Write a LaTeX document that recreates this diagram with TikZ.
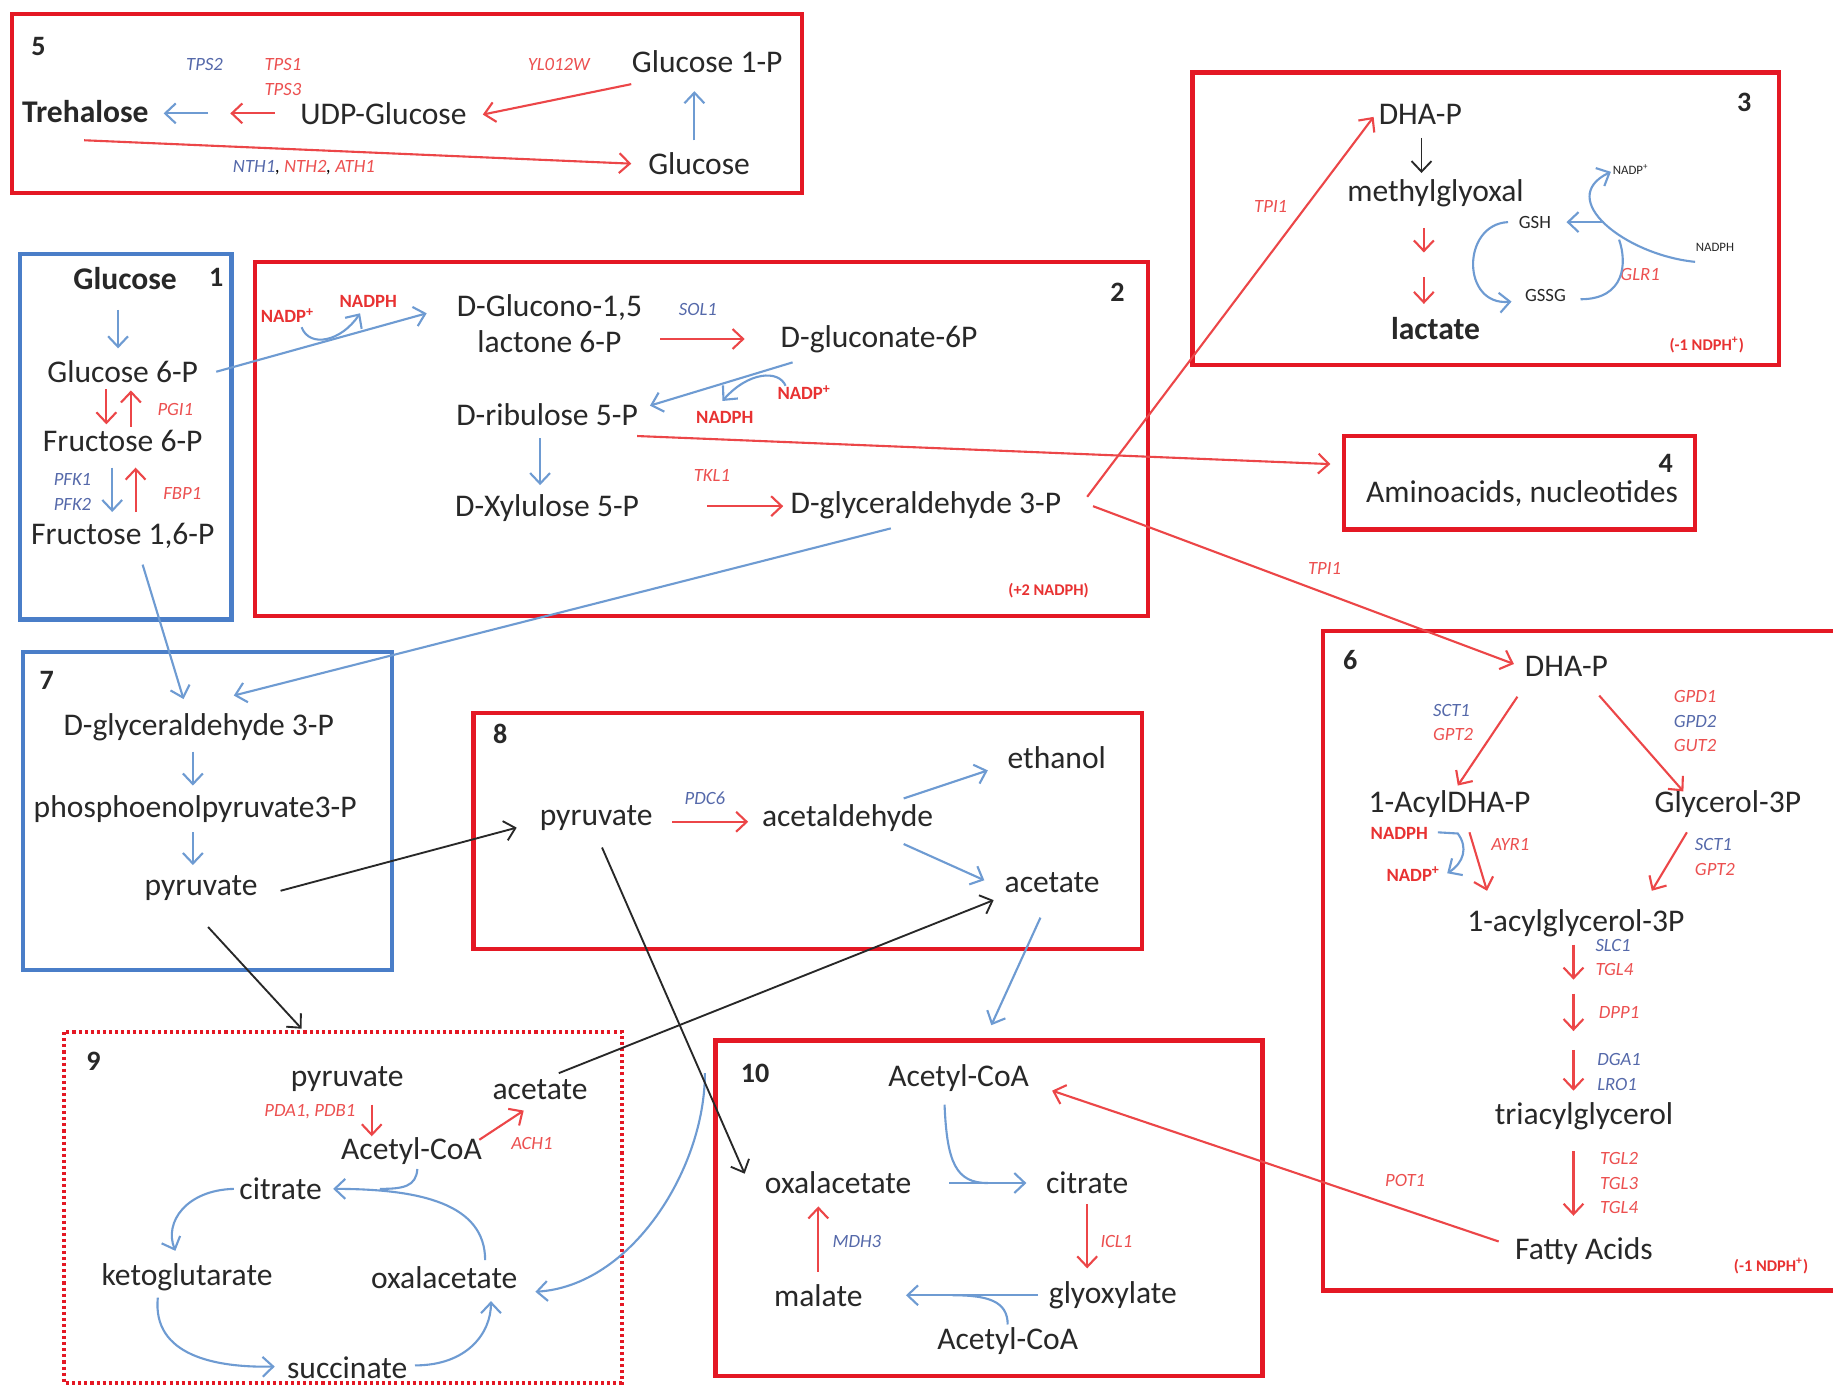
\documentclass[tikz,border=0pt]{standalone}
\usepackage{fontspec}
\setmainfont{Carlito}
\usetikzlibrary{arrows.meta}
\definecolor{boxred}{RGB}{228,24,36}
\definecolor{boxblue}{RGB}{74,126,200}
\definecolor{arred}{RGB}{236,70,72}
\definecolor{arblue}{RGB}{110,155,210}
\definecolor{arblack}{RGB}{40,40,40}
\definecolor{enzred}{RGB}{236,80,80}
\definecolor{enzblue}{RGB}{85,105,170}
\definecolor{txt}{RGB}{40,40,40}
\definecolor{cofred}{RGB}{232,50,50}
\begin{document}
\begin{tikzpicture}[x=0.5pt,y=-0.5pt,
  >={Straight Barb[length=4.5pt,width=8.5pt]},
  main/.style={font=\fontsize{13.5}{15.5}\selectfont, text=txt, inner sep=1pt, align=center},
  mainb/.style={font=\fontsize{13.5}{15.5}\selectfont\bfseries, text=txt, inner sep=1pt},
  enz/.style={font=\fontsize{8}{10.5}\selectfont\itshape, inner sep=0.5pt, align=left},
  er/.style={enz, text=enzred},
  eb/.style={enz, text=enzblue},
  cof/.style={font=\fontsize{8}{9}\selectfont\bfseries, text=cofred, inner sep=0.5pt},
  smalltxt/.style={font=\fontsize{8}{9}\selectfont, text=txt, inner sep=0.5pt},
  tinytxt/.style={font=\fontsize{5.5}{6}\selectfont, text=txt, inner sep=0.3pt},
  balance/.style={font=\fontsize{7}{8}\selectfont\bfseries, text=cofred, inner sep=0.5pt},
  numl/.style={font=\fontsize{12}{13}\selectfont\bfseries, text=txt, inner sep=0.5pt},
  rbox/.style={draw=boxred, line width=1.8pt},
  bbox/.style={draw=boxblue, line width=1.8pt},
  dbox/.style={draw=boxred, line width=1.8pt, dash pattern=on 1.3pt off 1.3pt},
  ra/.style={draw=arred, line width=0.9pt, ->},
  ba/.style={draw=arblue, line width=0.9pt, ->},
  ka/.style={draw=arblack, line width=0.8pt, ->},
  bl/.style={draw=arblue, line width=0.9pt}
]
\useasboundingbox[fill=white] (0,0) rectangle (1568,1186);

% ---------------- boxes
\draw[rbox] (10,12) rectangle (686,165);
\draw[rbox] (1020,62) rectangle (1522,312);
\draw[bbox] (17,217) rectangle (198,530);
\draw[rbox] (218,224) rectangle (982,527);
\draw[rbox] (1150,373) rectangle (1450,453);
\draw[rbox] (1132,540) rectangle (1590,1104);
\draw[bbox] (20,558) rectangle (335,830);
\draw[rbox] (405,610) rectangle (977,812);
\draw[dbox] (55,883) rectangle (532,1183);
\draw[rbox] (612,890) rectangle (1080,1177);

% ---------------- box 5
\node[numl] (n5) at (33,40) {5};
\node[eb] (tps2) at (175,55) {TPS2};
\node[er] (tps13) at (242,66) {TPS1\\TPS3};
\node[er] (ylw) at (478,55) {YL012W};
\node[main] (g1p) at (605,53) {Glucose 1-P};
\node[mainb] (treh) at (73,95) {Trehalose};
\node[main] (udpg) at (328,97) {UDP-Glucose};
\node[main] (glc5) at (598,140) {Glucose};
\node[enz] (nth) at (260,143) {\textcolor{enzblue}{NTH1}, \textcolor{enzred}{NTH2}, \textcolor{enzred}{ATH1}};
\coordinate (t1) at (197,97);
\coordinate (t2) at (178,97);
\draw[ra] ([shift={(-93,0)}]udpg.center) -- (t1);
\draw[ba] (t2) -- ([shift={(67,2)}]treh.center);
\draw[ra] ([shift={(-65,19)}]g1p.center) -- ([shift={(85,1)}]udpg.center);
\draw[ba] ([shift={(-4,-20)}]glc5.center) -- ([shift={(-11,25)}]g1p.center);
\draw[ra] ([shift={(-1,25)}]treh.center) -- ([shift={(-58,0)}]glc5.center);

% ---------------- box 3
\node[numl] (n3) at (1492,88) {3};
\node[main] (dhap3) at (1215,98) {DHA-P};
\node[main] (mgly) at (1228,165) {methylglyoxal};
\node[mainb] (lact) at (1228,281) {lactate};
\node[er] (tpi3) at (1087,177) {TPI1};
\node[smalltxt] (gsh) at (1313,190) {GSH};
\node[smalltxt] (gssg) at (1322,253) {GSSG};
\node[tinytxt] (nadp3) at (1395,145) {NADP\textsuperscript{+}};
\node[tinytxt] (nadph3) at (1467,212) {NADPH};
\node[er] (glr) at (1403,235) {GLR1};
\node[balance] (bal3) at (1460,295) {(-1 NDPH\textsuperscript{+})};
\coordinate (c3a) at (1218,216);
\coordinate (c3b) at (1218,237);
\coordinate (j3) at (1385,205);
\coordinate (j3b) at (1372,190);
\draw[ka] ([shift={(1,20)}]dhap3.center) -- ([shift={(-12,-17)}]mgly.center);
\draw[ra] ([shift={(-10,30)}]mgly.center) -- (c3a);
\draw[ra] (c3b) -- ([shift={(-10,-21)}]lact.center);
\draw[ba] ([shift={(-23,0)}]gsh.center) .. controls (1250,192) and (1250,262) .. ([shift={(-29,5)}]gssg.center);
\draw[bl] ([shift={(30,3)}]gssg.center) .. controls (1390,256) and (1392,225) .. (j3);
\draw[ba] ([shift={(-17,12)}]nadph3.center) .. controls (1390,218) and (1330,170) .. ([shift={(-17,2)}]nadp3.center);
\draw[ba] (j3b) -- ([shift={(27,0)}]gsh.center);

% ---------------- box 1
\node[numl] (n1) at (185,237) {1};
\node[mainb] (glc1) at (107,238) {Glucose};
\node[main] (g6p) at (105,318) {Glucose 6-P};
\node[main] (f6p) at (105,377) {Fructose 6-P};
\node[main] (f16p) at (105,458) {Fructose 1,6-P};
\node[er] (pgi) at (150,350) {PGI1};
\node[eb] (pfk) at (62,421) {PFK1\\PFK2};
\node[er] (fbp) at (156,422) {FBP1};
\draw[ba] ([shift={(-6,27)}]glc1.center) -- ([shift={(-4,-20)}]g6p.center);
\draw[ra] ([shift={(-14,15)}]g6p.center) -- ([shift={(-14,-14)}]f6p.center);
\draw[ra] ([shift={(7,-12)}]f6p.center) -- ([shift={(7,16)}]g6p.center);
\draw[ba] ([shift={(-9,23)}]f6p.center) -- ([shift={(-9,-20)}]f16p.center);
\draw[ra] ([shift={(11,-20)}]f16p.center) -- ([shift={(11,23)}]f6p.center);

% ---------------- box 2
\node[numl] (n2) at (956,250) {2};
\node[main] (glucono) at (470,277) {D-Glucono-1,5\\lactone 6-P};
\node[main] (gluconate) at (752,290) {D-gluconate-6P};
\node[main] (rib) at (468,355) {D-ribulose 5-P};
\node[main] (xyl) at (468,435) {D-Xylulose 5-P};
\node[main] (gap2) at (792,432) {D-glyceraldehyde 3-P};
\node[eb] (sol) at (597,265) {SOL1};
\node[er] (tkl) at (609,407) {TKL1};
\node[balance] (bal2) at (897,505) {(+2 NADPH)};
\node[cof] (nadp2a) at (246,270) {NADP\textsuperscript{+}};
\node[cof] (nadph2a) at (315,258) {NADPH};
\node[cof] (nadp2b) at (688,336) {NADP\textsuperscript{+}};
\node[cof] (nadph2b) at (620,357) {NADPH};
\draw[ba] ([shift={(80,0)}]g6p.center) -- ([shift={(-105,-9)}]glucono.center);
\draw[ba] ([shift={(12,10)}]nadp2a.center) .. controls (265,298) and (292,292) .. ([shift={(-7,10)}]nadph2a.center);
\draw[ra] ([shift={(95,13)}]glucono.center) -- ([shift={(-115,0)}]gluconate.center);
\draw[ba] ([shift={(-74,20)}]gluconate.center) -- ([shift={(88,-8)}]rib.center);
\draw[ba] ([shift={(-16,-6)}]nadp2b.center) .. controls (666,316) and (640,318) .. ([shift={(-2,-14)}]nadph2b.center);
\draw[ba] ([shift={(-6,20)}]rib.center) -- ([shift={(-6,-20)}]xyl.center);
\draw[ra] ([shift={(137,-2)}]xyl.center) -- ([shift={(-122,1)}]gap2.center);

% ---------------- box 4
\node[numl] (n4) at (1425,396) {4};
\node[main] (amino) at (1302,422) {Aminoacids, nucleotides};
\draw[ra] ([shift={(77,18)}]rib.center) -- ([shift={(-164,-25)}]amino.center);

% ---------------- box 6
\node[numl] (n6) at (1155,565) {6};
\node[main] (dhap6) at (1340,570) {DHA-P};
\node[main] (acyl) at (1240,688) {1-AcylDHA-P};
\node[main] (g3p) at (1478,688) {Glycerol-3P};
\node[main] (lpa) at (1348,790) {1-acylglycerol-3P};
\node[main] (tag) at (1355,955) {triacylglycerol};
\node[main] (fa) at (1355,1070) {Fatty Acids};
\node[enz] (sct6a) at (1243,618) {\textcolor{enzblue}{SCT1}\\\textcolor{enzred}{GPT2}};
\node[enz] (gpd) at (1450,617) {\textcolor{enzred}{GPD1}\\\textcolor{enzblue}{GPD2}\\\textcolor{enzred}{GUT2}};
\node[cof] (nadph6) at (1197,713) {NADPH};
\node[cof] (nadp6) at (1209,748) {NADP\textsuperscript{+}};
\node[er] (ayr) at (1292,722) {AYR1};
\node[enz] (sct6b) at (1467,733) {\textcolor{enzblue}{SCT1}\\\textcolor{enzred}{GPT2}};
\node[enz] (slc) at (1381,819) {\textcolor{enzblue}{SLC1}\\\textcolor{enzred}{TGL4}};
\node[er] (dpp) at (1385,866) {DPP1};
\node[eb] (dga) at (1385,917) {DGA1\\LRO1};
\node[er] (tgl) at (1385,1012) {TGL2\\TGL3\\TGL4};
\node[er] (pot) at (1202,1010) {POT1};
\node[er] (tpi6) at (1133,486) {TPI1};
\node[balance] (bal6) at (1515,1083) {(-1 NDPH\textsuperscript{+})};
\coordinate (c6a) at (1346,838);
\coordinate (c6b) at (1346,850);
\coordinate (c6c) at (1346,882);
\coordinate (c6d) at (1346,898);
\coordinate (j6) at (1247,713);
\draw[ra] ([shift={(-42,26)}]dhap6.center) -- ([shift={(7,-16)}]acyl.center);
\draw[ra] ([shift={(28,25)}]dhap6.center) -- ([shift={(-38,-11)}]g3p.center);
\draw[ra] ([shift={(17,24)}]acyl.center) -- ([shift={(-76,-28)}]lpa.center);
\draw[ra] ([shift={(-35,24)}]g3p.center) -- ([shift={(65,-28)}]lpa.center);
\draw[ba] ([shift={(33,-1)}]nadph6.center) -- (j6) .. controls (1256,725) and (1252,738) .. ([shift={(29,-1)}]nadp6.center);
\draw[ra] ([shift={(-2,18)}]lpa.center) -- (c6a);
\draw[ra] (c6b) -- (c6c);
\draw[ra] (c6d) -- ([shift={(-9,-22)}]tag.center);
\draw[ra] ([shift={(-9,30)}]tag.center) -- ([shift={(-9,-30)}]fa.center);

% ---------------- box 7
\node[numl] (n7) at (40,582) {7};
\node[main] (gap7) at (170,622) {D-glyceraldehyde 3-P};
\node[main] (pep) at (167,692) {phosphoenolpyruvate3-P};
\node[main] (pyr7) at (172,760) {pyruvate};
\draw[ba] ([shift={(-5,21)}]gap7.center) -- ([shift={(-2,-20)}]pep.center);
\draw[ba] ([shift={(-2,20)}]pep.center) -- ([shift={(-7,-20)}]pyr7.center);
\draw[ba] ([shift={(17,25)}]f16p.center) -- ([shift={(-13,-24)}]gap7.center);
\draw[ba] ([shift={(-30,20)}]gap2.center) -- ([shift={(30,-27)}]gap7.center);
\draw[ra] ([shift={(138,-7)}]gap2.center) -- ([shift={(-40,2)}]dhap3.center);
\draw[ra] ([shift={(143,1)}]gap2.center) -- ([shift={(-45,-2)}]dhap6.center);

% ---------------- box 8
\node[numl] (n8) at (428,628) {8};
\node[main] (pyr8) at (510,700) {pyruvate};
\node[main] (acald) at (725,700) {acetaldehyde};
\node[main] (etoh) at (904,648) {ethanol};
\node[main] (acet8) at (900,755) {acetate};
\node[eb] (pdc) at (603,683) {PDC6};
\coordinate (c8) at (848,877);
\draw[ra] ([shift={(65,3)}]pyr8.center) -- ([shift={(-85,3)}]acald.center);
\draw[ba] ([shift={(48,-17)}]acald.center) -- ([shift={(-59,11)}]etoh.center);
\draw[ba] ([shift={(48,22)}]acald.center) -- ([shift={(-58,-2)}]acet8.center);
\draw[ka] ([shift={(68,2)}]pyr7.center) -- ([shift={(-68,8)}]pyr8.center);
\draw[ba] ([shift={(-10,30)}]acet8.center) -- (c8);

% ---------------- box 9
\node[numl] (n9) at (80,908) {9};
\node[main] (pyr9) at (297,923) {pyruvate};
\node[main] (accoa9) at (352,985) {Acetyl-CoA};
\node[main] (acet9) at (462,932) {acetate};
\node[main] (cit9) at (240,1017) {citrate};
\node[main] (akg) at (160,1093) {ketoglutarate};
\node[main] (oaa9) at (380,1093) {oxalacetate};
\node[main] (succ) at (297,1170) {succinate};
\node[er] (pda) at (265,951) {PDA1, PDB1};
\node[er] (ach) at (455,978) {ACH1};
\coordinate (j9) at (325,1017);
\coordinate (c9) at (603,918);
\draw[ka] ([shift={(6,33)}]pyr7.center) -- ([shift={(-39,-43)}]pyr9.center);
\draw[ra] ([shift={(21,22)}]pyr9.center) -- ([shift={(-34,-13)}]accoa9.center);
\draw[ra] ([shift={(58,-10)}]accoa9.center) -- ([shift={(-14,18)}]acet9.center);
\draw[ba] ([shift={(35,-15)}]oaa9.center) .. controls (415,1030) and (360,1017) .. ([shift={(45,0)}]cit9.center);
\draw[bl] ([shift={(5,15)}]accoa9.center) .. controls (356,1015) and (345,1017) .. (j9);
\draw[ba] ([shift={(-40,0)}]cit9.center) .. controls (160,1018) and (140,1045) .. ([shift={(-10,-23)}]akg.center);
\draw[ba] ([shift={(-25,17)}]akg.center) .. controls (130,1160) and (185,1170) .. ([shift={(-62,-1)}]succ.center);
\draw[ba] ([shift={(58,-2)}]succ.center) .. controls (400,1168) and (420,1140) .. ([shift={(40,20)}]oaa9.center);
\draw[ba] (c9) .. controls (603,1000) and (540,1100) .. ([shift={(78,12)}]oaa9.center);
\draw[ka] ([shift={(16,-14)}]acet9.center) -- ([shift={(-50,15)}]acet8.center);

% ---------------- box 10
\node[numl] (n10) at (646,918) {10};
\node[main] (accoa10) at (820,922) {Acetyl-CoA};
\node[main] (oaa10) at (717,1012) {oxalacetate};
\node[main] (cit10) at (930,1012) {citrate};
\node[main] (glyox) at (952,1108) {glyoxylate};
\node[main] (mal) at (700,1108) {malate};
\node[main] (accoa10b) at (862,1147) {Acetyl-CoA};
\node[eb] (mdh) at (733,1062) {MDH3};
\node[er] (icl) at (955,1062) {ICL1};
\coordinate (j10a) at (845,1012);
\coordinate (j10b) at (815,1108);
\draw[ba] ([shift={(95,0)}]oaa10.center) -- ([shift={(-52,0)}]cit10.center);
\draw[bl] ([shift={(-12,23)}]accoa10.center) .. controls (810,995) and (818,1012) .. (j10a);
\draw[ra] ([shift={(0,18)}]cit10.center) -- ([shift={(-22,-23)}]glyox.center);
\draw[ba] ([shift={(-64,0)}]glyox.center) -- ([shift={(75,0)}]mal.center);
\draw[bl] ([shift={(0,-14)}]accoa10b.center) .. controls (862,1113) and (845,1108) .. (j10b);
\draw[ra] ([shift={(0,-20)}]mal.center) -- ([shift={(-17,20)}]oaa10.center);
\draw[ka] ([shift={(5,25)}]pyr8.center) -- ([shift={(-80,-8)}]oaa10.center);
\draw[ra] ([shift={(-73,-8)}]fa.center) -- ([shift={(80,11)}]accoa10.center);
\end{tikzpicture}
\end{document}
